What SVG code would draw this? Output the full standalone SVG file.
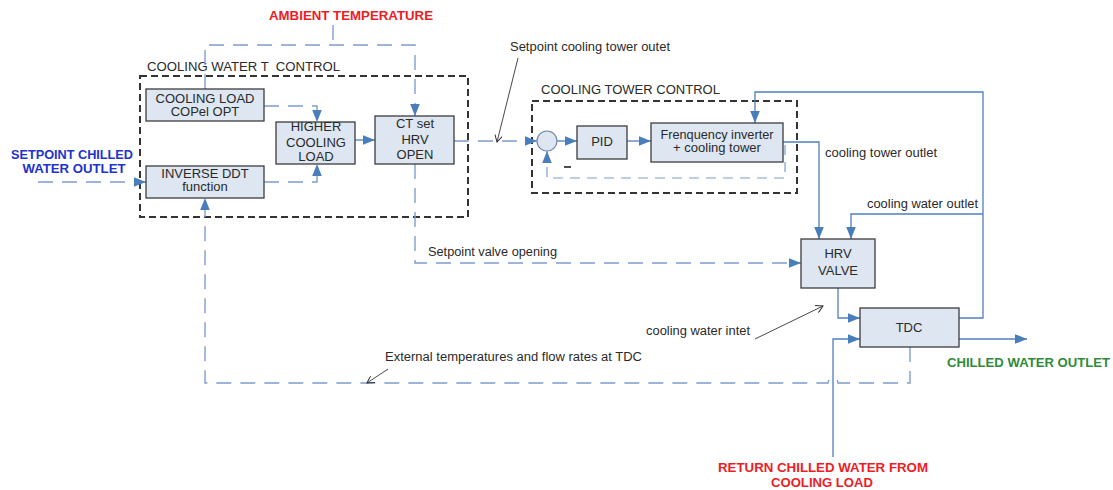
<svg xmlns="http://www.w3.org/2000/svg" width="1113" height="490" viewBox="0 0 1113 490">
<style>
text{font-family:"Liberation Sans",Arial,sans-serif;fill:#2a2a2a}
.box{fill:#dde6f1;stroke:#3c3c3c;stroke-width:1.3}
.ctrl{fill:none;stroke:#333;stroke-width:2;stroke-dasharray:7 4}
.flow{fill:none;stroke:#4f7fbf;stroke-width:1.3}
.sig{fill:none;stroke:#7f9dd0;stroke-width:1.4;stroke-dasharray:15 9}
.fb{fill:none;stroke:#7f9dd0;stroke-width:1.2;stroke-dasharray:10 7}
.ann{fill:none;stroke:#333;stroke-width:0.9}
.bt{font-size:13px;text-anchor:middle}
.lb{font-size:12.5px}
.hd{font-size:13px;font-weight:bold}
.red{fill:#ee1c24}
.blue{fill:#2233cc}
.green{fill:#2e8b3a}
</style>
<defs>
<marker id="ah" viewBox="0 0 10 8" refX="10" refY="4" markerWidth="12" markerHeight="10" markerUnits="userSpaceOnUse" orient="auto"><path d="M0,0 L10,4 L0,8 z" fill="#4a7ebb"/></marker>
<marker id="oa" viewBox="0 0 8 8" refX="7" refY="4" markerWidth="8" markerHeight="8" markerUnits="userSpaceOnUse" orient="auto"><path d="M0,0 L7,4 L0,8" fill="none" stroke="#333" stroke-width="1"/></marker>
</defs>
<rect width="1113" height="490" fill="#fff"/>

<g id="control-boxes">
<rect class="ctrl" x="140" y="76" width="328" height="141"/>
<text class="lb" x="147" y="71" xml:space="preserve" style="white-space:pre" textLength="193" lengthAdjust="spacingAndGlyphs">COOLING WATER T  CONTROL</text>
<rect class="ctrl" x="532" y="101" width="265" height="92"/>
<text class="lb" x="541" y="94" textLength="179" lengthAdjust="spacingAndGlyphs">COOLING TOWER CONTROL</text>
</g>

<g id="connectors">
<path class="sig" d="M333,25 V45"/>
<path class="sig" d="M205,89 V45 H415 V116" marker-end="url(#ah)"/>
<path class="sig" d="M38,182 H146" marker-end="url(#ah)"/>
<path class="sig" d="M264,106 H317 V122" marker-end="url(#ah)"/>
<path class="sig" d="M264,182 H317 V164" marker-end="url(#ah)"/>
<path class="flow" d="M355,140 H375" marker-end="url(#ah)"/>
<path class="sig" d="M454,141 H537" marker-end="url(#ah)"/>
<path class="flow" d="M557,141 H577" marker-end="url(#ah)"/>
<path class="flow" d="M627,141 H651" marker-end="url(#ah)"/>
<path class="fb" d="M785,145 V178 H547 V151" marker-end="url(#ah)"/>
<path class="flow" d="M783,142 H819 V239" marker-end="url(#ah)"/>
<path class="flow" d="M959,318 H983 V92 H755 V123" marker-end="url(#ah)"/>
<path class="flow" d="M983,214 H851 V239" marker-end="url(#ah)"/>
<path class="flow" d="M838,288 V318 H860" marker-end="url(#ah)"/>
<path class="flow" d="M833,457 V339 H860" marker-end="url(#ah)"/>
<path class="flow" d="M959,339 H1027" marker-end="url(#ah)"/>
<path class="sig" d="M910,347 V383 H838 A5,5 0 0 0 828,383 H205 V198" marker-end="url(#ah)"/>
<path class="sig" d="M415,164 V263 H801" marker-end="url(#ah)"/>
<path class="ann" d="M518,58 L497,142" marker-end="url(#oa)"/>
<path class="ann" d="M755,339 L823,306" marker-end="url(#oa)"/>
<path class="ann" d="M388,369 L367,383" marker-end="url(#oa)"/>
<path d="M564,167 H571" stroke="#222" stroke-width="1.6"/>
</g>

<g id="n-cooling-load">
<rect class="box" x="146" y="89" width="118" height="32"/>
<text class="bt" x="205" y="103">COOLING LOAD</text>
<text class="bt" x="205" y="116">COPel OPT</text>
</g>
<g id="n-inverse-ddt">
<rect class="box" x="146" y="166" width="118" height="32"/>
<text class="bt" x="205" y="178">INVERSE DDT</text>
<text class="bt" x="205" y="191">function</text>
</g>
<g id="n-higher">
<rect class="box" x="276" y="122" width="79" height="42"/>
<text class="bt" x="316" y="131">HIGHER</text>
<text class="bt" x="316" y="147">COOLING</text>
<text class="bt" x="316" y="161">LOAD</text>
</g>
<g id="n-ctset">
<rect class="box" x="375" y="116" width="79" height="48"/>
<text class="bt" x="415" y="128">CT set</text>
<text class="bt" x="415" y="144">HRV</text>
<text class="bt" x="415" y="159">OPEN</text>
</g>
<g id="n-sum">
<circle cx="547" cy="141" r="10" fill="#dde6f1" stroke="#6d86ad" stroke-width="1.2"/>
</g>
<g id="n-pid">
<rect class="box" x="577" y="126" width="50" height="33"/>
<text class="bt" x="602" y="146">PID</text>
</g>
<g id="n-freq">
<rect class="box" x="651" y="123" width="132" height="39"/>
<text class="bt" x="717" y="139" textLength="113" lengthAdjust="spacingAndGlyphs">Frenquency inverter</text>
<text class="bt" x="717" y="152">+ cooling tower</text>
</g>
<g id="n-hrv">
<rect class="box" x="801" y="239" width="74" height="49"/>
<text class="bt" x="838" y="258">HRV</text>
<text class="bt" x="838" y="275">VALVE</text>
</g>
<g id="n-tdc">
<rect class="box" x="860" y="308" width="99" height="39"/>
<text class="bt" x="909" y="332">TDC</text>
</g>

<g id="labels">
<text class="hd red" x="351" y="20" text-anchor="middle" textLength="164" lengthAdjust="spacingAndGlyphs">AMBIENT TEMPERATURE</text>
<text class="hd blue" x="72" y="159" text-anchor="middle" textLength="122" lengthAdjust="spacingAndGlyphs">SETPOINT CHILLED</text>
<text class="hd blue" x="74" y="173" text-anchor="middle" textLength="103" lengthAdjust="spacingAndGlyphs">WATER OUTLET</text>
<text class="hd green" x="947" y="367" textLength="163" lengthAdjust="spacingAndGlyphs">CHILLED WATER OUTLET</text>
<text class="hd red" x="823" y="472" text-anchor="middle" textLength="210" lengthAdjust="spacingAndGlyphs">RETURN CHILLED WATER FROM</text>
<text class="hd red" x="822" y="487" text-anchor="middle" textLength="102" lengthAdjust="spacingAndGlyphs">COOLING LOAD</text>
<text class="lb" x="510" y="51" textLength="160" lengthAdjust="spacingAndGlyphs">Setpoint cooling tower outet</text>
<text class="lb" x="825" y="157" textLength="112" lengthAdjust="spacingAndGlyphs">cooling tower outlet</text>
<text class="lb" x="867" y="208" textLength="111" lengthAdjust="spacingAndGlyphs">cooling water outlet</text>
<text class="lb" x="428" y="256" textLength="129" lengthAdjust="spacingAndGlyphs">Setpoint valve opening</text>
<text class="lb" x="646" y="335" textLength="104" lengthAdjust="spacingAndGlyphs">cooling water intet</text>
<text class="lb" x="385" y="361" textLength="257" lengthAdjust="spacingAndGlyphs">External temperatures and flow rates at TDC</text>
</g>
</svg>
